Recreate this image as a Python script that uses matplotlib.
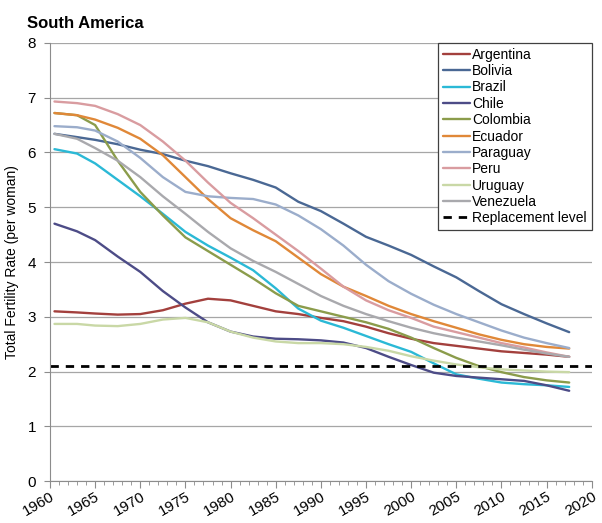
import matplotlib
matplotlib.use("Agg")
import matplotlib.pyplot as plt
from matplotlib.ticker import MultipleLocator

plt.rcParams['font.family'] = ['Liberation Sans', 'DejaVu Sans']

years = [1960.5, 1963, 1965, 1967.5, 1970, 1972.5, 1975, 1977.5, 1980, 1982.5,
         1985, 1987.5, 1990, 1992.5, 1995, 1997.5, 2000, 2002.5, 2005, 2007.5,
         2010, 2012.5, 2015, 2017.5]

argentina = [3.10, 3.08, 3.06, 3.04, 3.05, 3.12, 3.24, 3.33, 3.30, 3.20,
             3.10, 3.05, 2.98, 2.92, 2.82, 2.70, 2.60, 2.52, 2.47, 2.42,
             2.37, 2.34, 2.31, 2.27]
bolivia = [6.34, 6.28, 6.23, 6.15, 6.05, 5.97, 5.85, 5.75, 5.62, 5.50,
           5.36, 5.10, 4.93, 4.70, 4.46, 4.30, 4.13, 3.92, 3.72, 3.47,
           3.23, 3.05, 2.88, 2.72]
brazil = [6.06, 5.98, 5.80, 5.50, 5.20, 4.88, 4.55, 4.30, 4.08, 3.85,
          3.52, 3.15, 2.93, 2.80, 2.65, 2.50, 2.36, 2.15, 1.95, 1.87,
          1.80, 1.77, 1.75, 1.72]
chile = [4.70, 4.56, 4.40, 4.10, 3.82, 3.47, 3.17, 2.90, 2.73, 2.64,
         2.60, 2.59, 2.57, 2.53, 2.43, 2.27, 2.12, 1.98, 1.92, 1.89,
         1.86, 1.83, 1.75, 1.65]
colombia = [6.72, 6.68, 6.50, 5.85, 5.28, 4.85, 4.45, 4.20, 3.95, 3.70,
            3.43, 3.20, 3.10, 3.00, 2.90, 2.78, 2.62, 2.43, 2.25, 2.10,
            1.99, 1.90, 1.84, 1.80]
ecuador = [6.72, 6.68, 6.60, 6.45, 6.25, 5.95, 5.55, 5.15, 4.80, 4.58,
           4.38, 4.08, 3.78, 3.55, 3.38, 3.20, 3.05, 2.92, 2.80, 2.68,
           2.58, 2.50, 2.45, 2.42]
paraguay = [6.48, 6.46, 6.40, 6.20, 5.90, 5.55, 5.28, 5.20, 5.17, 5.15,
            5.05, 4.85, 4.60, 4.30, 3.95, 3.65, 3.42, 3.22, 3.05, 2.90,
            2.75, 2.62, 2.52, 2.43]
peru = [6.93, 6.90, 6.85, 6.70, 6.50, 6.20, 5.85, 5.45, 5.08, 4.80,
        4.50, 4.20, 3.88, 3.55, 3.30, 3.12, 2.98, 2.82, 2.72, 2.62,
        2.52, 2.44, 2.35, 2.27]
uruguay = [2.87, 2.87, 2.84, 2.83, 2.87, 2.95, 2.98, 2.90, 2.73, 2.62,
           2.55, 2.52, 2.52, 2.50, 2.45, 2.38, 2.28, 2.20, 2.13, 2.08,
           2.04, 2.02, 2.00, 1.99]
venezuela = [6.34, 6.25, 6.08, 5.85, 5.55, 5.20, 4.88, 4.55, 4.25, 4.02,
             3.82, 3.60, 3.38, 3.20, 3.05, 2.92, 2.80, 2.70, 2.62, 2.55,
             2.48, 2.40, 2.33, 2.27]

countries = ["Argentina", "Bolivia", "Brazil", "Chile", "Colombia", "Ecuador",
             "Paraguay", "Peru", "Uruguay", "Venezuela"]
series = [argentina, bolivia, brazil, chile, colombia, ecuador, paraguay, peru,
          uruguay, venezuela]
colors = ["#a3403d", "#4a6894", "#2bb9d6", "#4d4c87", "#8b9c4b", "#e08838",
          "#9badcb", "#d99ca0", "#c9d8a6", "#a9a9ad"]

replacement_level = 2.1
x_range = [1960, 2020]

fig = plt.figure(figsize=(6.02, 5.23), dpi=100)
ax = fig.add_axes([0.083, 0.08, 0.9, 0.838])

for name, vals, c in zip(countries, series, colors):
    ax.plot(years, vals, color=c, lw=1.7, label=name, solid_capstyle='round',
            solid_joinstyle='round')
ax.plot(x_range, [replacement_level, replacement_level], color='black', lw=2,
        ls=(0, (3, 2.5)), label='Replacement level')

ax.set_xlim(1960, 2020)
ax.set_ylim(0, 8)
ax.set_yticks(range(0, 9))
ax.set_xticks(range(1960, 2021, 5))
ax.xaxis.set_minor_locator(MultipleLocator(1))
ax.grid(axis='y', color='#a6a6a6', lw=0.9)
ax.set_axisbelow(True)
for s in ['top', 'right']:
    ax.spines[s].set_visible(False)
for s in ['left', 'bottom']:
    ax.spines[s].set_color('#8c8c8c')
ax.tick_params(axis='y', length=4, color='#8c8c8c', labelsize=11, pad=6)
ax.tick_params(axis='x', which='major', length=5, color='#8c8c8c', labelsize=11, pad=1)
ax.tick_params(axis='x', which='minor', length=3, color='#8c8c8c')
for lab in ax.get_xticklabels():
    lab.set_rotation(30)
    lab.set_ha('right')
    lab.set_rotation_mode('anchor')

ax.set_ylabel("Total Fertility Rate (per woman)", fontsize=10, labelpad=6)
fig.text(0.045, 0.955, "South America", fontsize=12, fontweight='bold', ha='left', va='center')

leg = ax.legend(loc='upper right', bbox_to_anchor=(1.0, 1.0), fontsize=10,
                frameon=True, fancybox=False, edgecolor='#404040', framealpha=1,
                handlelength=1.9, handletextpad=0.2, labelspacing=0.17,
                borderpad=0.35, borderaxespad=0)
leg.get_frame().set_linewidth(0.9)

fig.savefig("out.png", dpi=100)
